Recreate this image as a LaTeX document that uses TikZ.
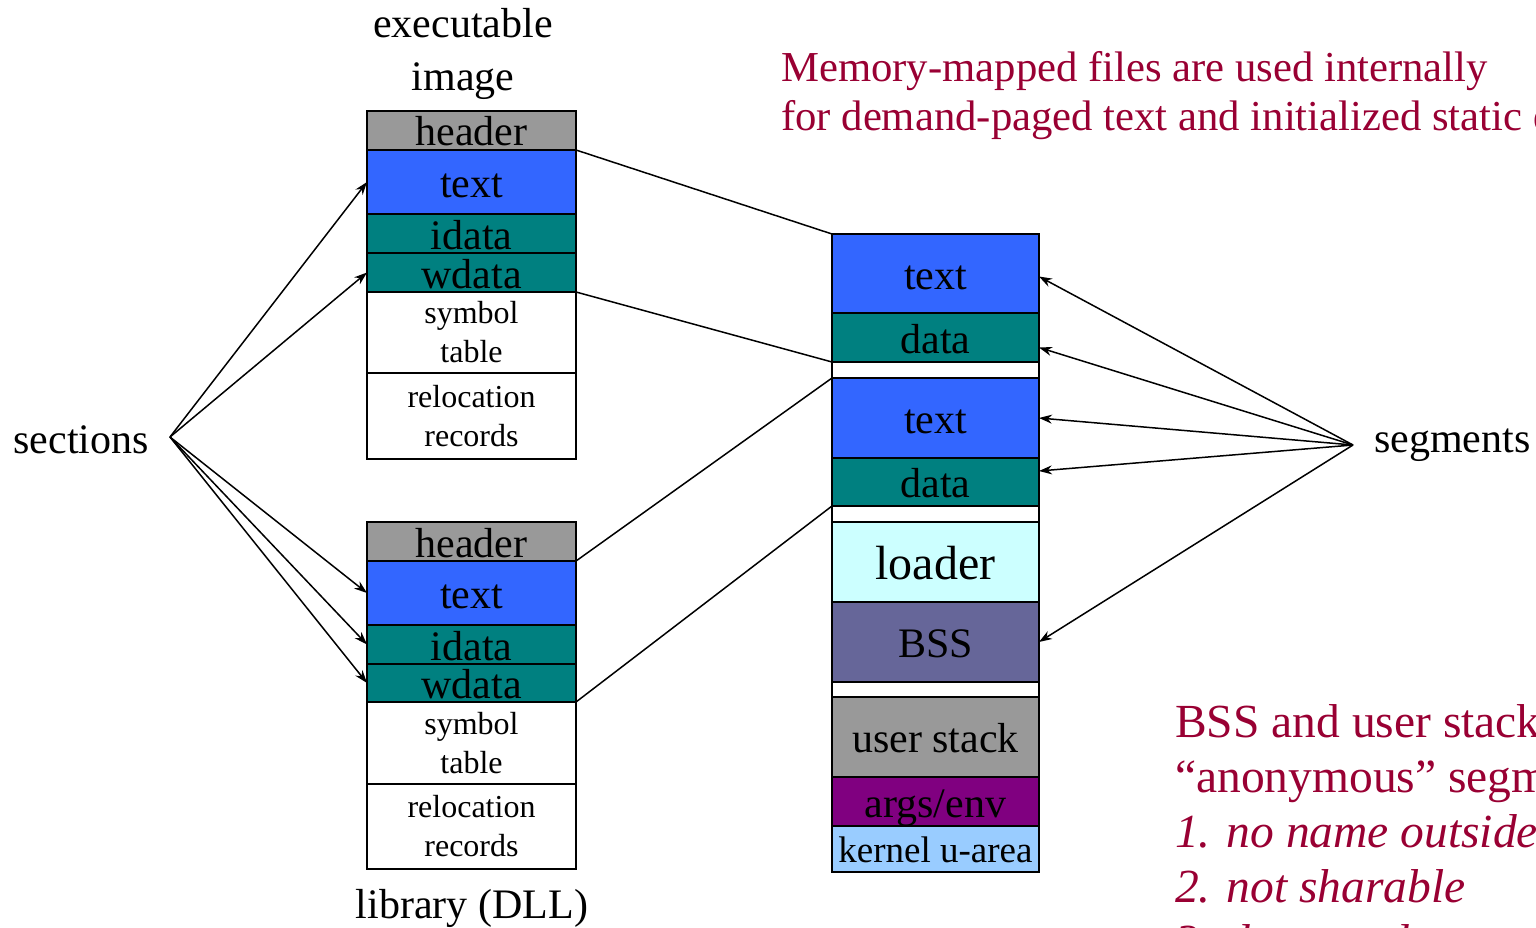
\documentclass[tikz,border=0pt]{standalone}
\usepackage{fontspec}
\setmainfont{Liberation Serif}
\usetikzlibrary{positioning,arrows.meta}

\definecolor{hdrgray}{RGB}{153,153,153}
\definecolor{txtblue}{RGB}{51,102,255}
\definecolor{datateal}{RGB}{0,128,128}
\definecolor{ldrcyan}{RGB}{204,255,255}
\definecolor{bssblue}{RGB}{102,102,153}
\definecolor{argpurple}{RGB}{128,0,128}
\definecolor{uarea}{RGB}{153,204,255}
\definecolor{notered}{RGB}{153,0,51}

\tikzset{
  cell/.style={draw, line width=2.5pt, inner sep=0pt, outer sep=0pt,
    minimum width=209pt, text height=31pt, text depth=0pt,
    font=\fontsize{42}{50}\selectfont},
  seg/.style={cell, minimum width=207pt},
  gap/.style={seg, fill=white, text height=0pt},
  twoline/.style={align=center, text height={}, text depth={},
    font=\fontsize{32}{39}\selectfont},
  label/.style={inner sep=0pt, font=\fontsize{42}{53}\selectfont},
  link/.style={line width=1.5pt},
  ptr/.style={line width=1.5pt, -{Stealth[length=13pt,width=9pt]}},
  note/.style={inner sep=0pt, align=left, text=notered}
}

\begin{document}
\begin{tikzpicture}[x=1pt,y=-1pt]
	\useasboundingbox (0,0) rectangle (1536,928);
	\clip (0,0) rectangle (1536,928);

	% executable image
	\node[cell, fill=hdrgray, minimum height=39pt, anchor=north west] (hdrA) at (367,111) {header};
	\node[cell, fill=txtblue, minimum height=64pt, below=0pt of hdrA] (textA) {text};
	\node[cell, fill=datateal, minimum height=39pt, below=0pt of textA] (idataA) {idata};
	\node[cell, fill=datateal, minimum height=39pt, below=0pt of idataA] (wdataA) {wdata};
	\node[cell, twoline, fill=white, minimum height=81pt, below=0pt of wdataA] (symA) {symbol\\table};
	\node[cell, twoline, fill=white, minimum height=86pt, below=0pt of symA] (relocA) {relocation\\records};
	\node[label, align=center] (exe) at (463,54) {executable\\image};

	% library (DLL)
	\node[cell, fill=hdrgray, minimum height=39pt, anchor=north west] (hdrB) at (367,522) {header};
	\node[cell, fill=txtblue, minimum height=64pt, below=0pt of hdrB] (textB) {text};
	\node[cell, fill=datateal, minimum height=39pt, below=0pt of textB] (idataB) {idata};
	\node[cell, fill=datateal, minimum height=38pt, below=0pt of idataB] (wdataB) {wdata};
	\node[cell, twoline, fill=white, minimum height=82pt, below=0pt of wdataB] (symB) {symbol\\table};
	\node[cell, twoline, fill=white, minimum height=85pt, below=0pt of symB] (relocB) {relocation\\records};
	\node[label, anchor=base] (lib) at (472,918) {library (DLL)};

	% process address space
	\node[seg, fill=txtblue, minimum height=79pt, anchor=north west] (textM) at (832,234) {text};
	\node[seg, fill=datateal, minimum height=49pt, below=0pt of textM] (dataM) {data};
	\node[gap, minimum height=16pt, below=0pt of dataM] (gapM) {};
	\node[seg, fill=txtblue, minimum height=80pt, below=0pt of gapM] (textN) {text};
	\node[seg, fill=datateal, minimum height=48pt, below=0pt of textN] (dataN) {data};
	\node[gap, minimum height=16pt, below=0pt of dataN] (gapN) {};
	\node[seg, fill=ldrcyan, minimum height=80pt, below=0pt of gapN, text height=34pt, font=\fontsize{48}{56}\selectfont] (loader) {loader};
	\node[seg, fill=bssblue, minimum height=80pt, below=0pt of loader] (bss) {BSS};
	\node[gap, minimum height=15pt, below=0pt of bss] (gapO) {};
	\node[seg, fill=hdrgray, minimum height=80pt, below=0pt of gapO] (ustack) {user stack};
	\node[seg, fill=argpurple, minimum height=49pt, below=0pt of ustack] (args) {args/env};
	\node[seg, fill=uarea, minimum height=46pt, below=0pt of args, text height=26pt, font=\fontsize{37}{44}\selectfont] (karea) {kernel u-area};

	% file sections mapped to segments
	\draw[link] (hdrA.south east) -- (textM.north west);
	\draw[link] (wdataA.south east) -- (dataM.south west);
	\draw[link] (hdrB.south east) -- (textN.north west);
	\draw[link] (wdataB.south east) -- (dataN.south west);

	% sections
	\node[label, anchor=base east] (sections) at (149,453) {sections};
	\coordinate (secpt) at (170,437);
	\draw[ptr] (secpt) -- (textA.west);
	\draw[ptr] (secpt) -- (wdataA.west);
	\draw[ptr] (secpt) -- (textB.west);
	\draw[ptr] (secpt) -- (idataB.west);
	\draw[ptr] (secpt) -- (wdataB.west);

	% segments
	\node[label, anchor=base west] (segments) at (1374,452) {segments};
	\coordinate (segpt) at (1353,445);
	\draw[ptr] (segpt) -- ([yshift=-3pt]textM.east);
	\draw[ptr] (segpt) -- ([yshift=-10pt]dataM.east);
	\draw[ptr] (segpt) -- (textN.east);
	\draw[ptr] (segpt) -- ([yshift=11pt]dataN.east);
	\draw[ptr] (segpt) -- (bss.east);

	% notes
	\node[note, anchor=north west, font=\fontsize{42.7}{49}\selectfont] (mmnote) at (781,51)
		{Memory-mapped files are used internally\\for demand-paged text and initialized static data.};
	\node[note, anchor=north west, font=\fontsize{47.5}{55}\selectfont] (anonnote) at (1175,704)
		{BSS and user stack are\\``anonymous'' segments.\\\textit{1. no name outside the process}\\\textit{2. not sharable}\\\textit{3. destroyed on process exit}};
\end{tikzpicture}
\end{document}
